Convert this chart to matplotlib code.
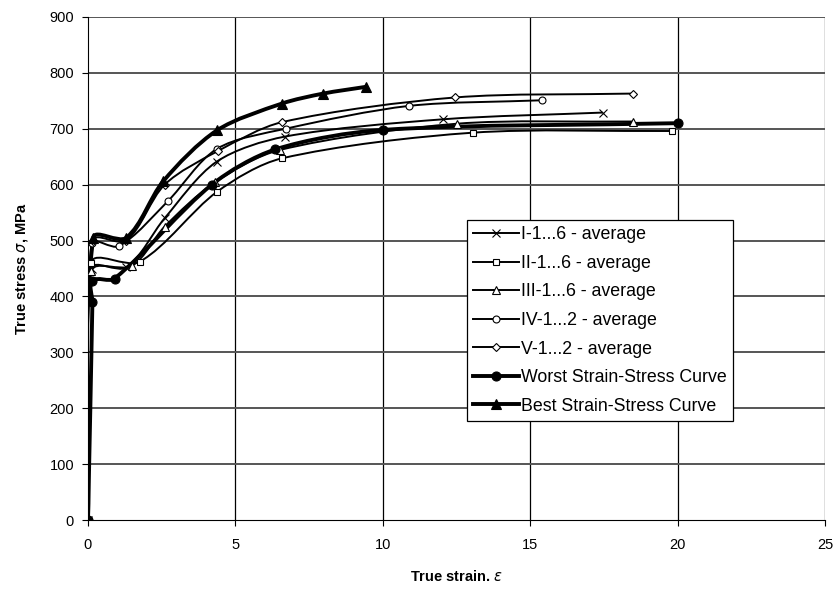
import matplotlib
matplotlib.use("Agg")
import matplotlib.pyplot as plt
import numpy as np
from matplotlib.path import Path
from matplotlib.patches import PathPatch
from matplotlib.lines import Line2D

plt.rcParams['font.family'] = ['Liberation Sans', 'DejaVu Sans']

labels = ["I-1...6 - average", "II-1...6 - average", "III-1...6 - average",
          "IV-1...2 - average", "V-1...2 - average",
          "Worst Strain-Stress Curve", "Best Strain-Stress Curve"]

x_I = [0, 0.12, 1.3, 2.6, 4.36, 6.68, 12.05, 17.46]
y_I = [0, 450, 452, 540, 641, 686, 717, 729]
x_II = [0, 0.1, 1.75, 4.37, 6.57, 13.05, 19.8]
y_II = [0, 460, 462, 587, 647, 693, 696]
x_III = [0, 0.1, 1.5, 2.6, 4.3, 6.5, 12.5, 18.5]
y_III = [0, 445, 455, 525, 604, 662, 709, 713]
x_IV = [0, 0.12, 1.05, 2.7, 4.37, 6.7, 10.9, 15.4]
y_IV = [0, 495, 490, 570, 664, 700, 741, 751]
x_V = [0, 0.18, 1.3, 2.6, 4.4, 6.59, 12.45, 18.5]
y_V = [0, 500, 500, 600, 660, 712, 756, 763]
x_W = [0, 0.15, 0.15, 0.9, 4.2, 6.35, 10.0, 20.0]
y_W = [0, 390, 428, 432, 600, 663, 698, 710]
x_B = [0, 0.18, 1.3, 2.55, 4.37, 6.57, 7.98, 9.42]
y_B = [0, 505, 505, 606, 697, 745, 763, 775]

xs = [x_I, x_II, x_III, x_IV, x_V, x_W, x_B]
ys = [y_I, y_II, y_III, y_IV, y_V, y_W, y_B]
markers = ['x', 's', '^', 'o', 'D', 'o', '^']
filled = [False, False, False, False, False, True, True]
msizes = [6, 5, 5.5, 5, 4.5, 6.5, 7]
lws = [1.4, 1.4, 1.4, 1.4, 1.4, 2.8, 2.8]

fig = plt.figure(figsize=(8.36, 5.9), dpi=100)
ax = fig.add_axes([88/836, 70/590, 737/836, 503/590])
ax.set_xlim(0, 25)
ax.set_ylim(0, 900)


def smooth_path(x, y):
    # smoothed line: Bezier handles along neighbour chord, sized by segment length
    sx, sy = 737 / 25.0, 503 / 900.0
    p = np.column_stack([np.asarray(x, float) * sx, np.asarray(y, float) * sy])
    n = len(p)
    tang = []
    for i in range(n):
        a = p[i - 1] if i > 0 else p[i]
        b = p[i + 1] if i < n - 1 else p[i]
        d = b - a
        L = np.hypot(*d)
        tang.append(d / L if L > 0 else np.zeros(2))
    verts = [p[0]]
    codes = [Path.MOVETO]
    for i in range(n - 1):
        seg = np.hypot(*(p[i + 1] - p[i]))
        h = seg * 0.3
        c1 = p[i] + tang[i] * h
        c2 = p[i + 1] - tang[i + 1] * h
        verts += [c1, c2, p[i + 1]]
        codes += [Path.CURVE4] * 3
    v = np.array(verts)
    v[:, 0] /= sx
    v[:, 1] /= sy
    return Path(v, codes)


handles = []
for x, y, m, f, ms, lw, lab in zip(xs, ys, markers, filled, msizes, lws, labels):
    patch = PathPatch(smooth_path(x, y), fill=False, edgecolor='black',
                      lw=lw, zorder=3, transform=ax.transData)
    ax.add_patch(patch)
    mfc = 'black' if f else 'white'
    ax.plot(x, y, linestyle='none', marker=m, ms=ms, mfc=mfc if m != 'x' else 'black',
            mec='black', mew=0.8, zorder=4)
    handles.append(Line2D([0], [0], color='black', lw=lw, marker=m, ms=ms,
                          mfc=mfc, mec='black', mew=0.8))

ax.set_xticks(np.arange(0, 26, 5))
ax.set_yticks(np.arange(0, 901, 100))
for v in np.arange(5, 26, 5):
    ax.axvline(v, color='black', lw=0.9, zorder=1)
for v in np.arange(100, 901, 100):
    ax.axhline(v, color='#555555', lw=1.4, zorder=1)

for s in ['top', 'right']:
    ax.spines[s].set_visible(False)
ax.spines['left'].set_color('black')
ax.spines['bottom'].set_color('black')
ax.tick_params(axis='both', labelsize=10.5, length=4, direction='out', color='black')
ax.tick_params(axis='x', pad=9)
ax.tick_params(axis='y', pad=6)

ax.set_xlabel(r'True strain. $\varepsilon$', fontsize=10.5, fontweight='bold', labelpad=12)
ax.set_ylabel(r'True stress $\sigma$, MPa', fontsize=10.5, fontweight='bold', labelpad=14)

leg = ax.legend(handles, labels, loc='lower left', bbox_to_anchor=(0.514, 0.197),
                fontsize=12.8, frameon=True, fancybox=False, edgecolor='black',
                framealpha=1, handlelength=2.6, handletextpad=0.1,
                borderaxespad=0, labelspacing=0.65, borderpad=0.35)
leg.get_frame().set_linewidth(0.9)
leg.set_zorder(5)

fig.savefig('out.png', dpi=100, facecolor='white')
